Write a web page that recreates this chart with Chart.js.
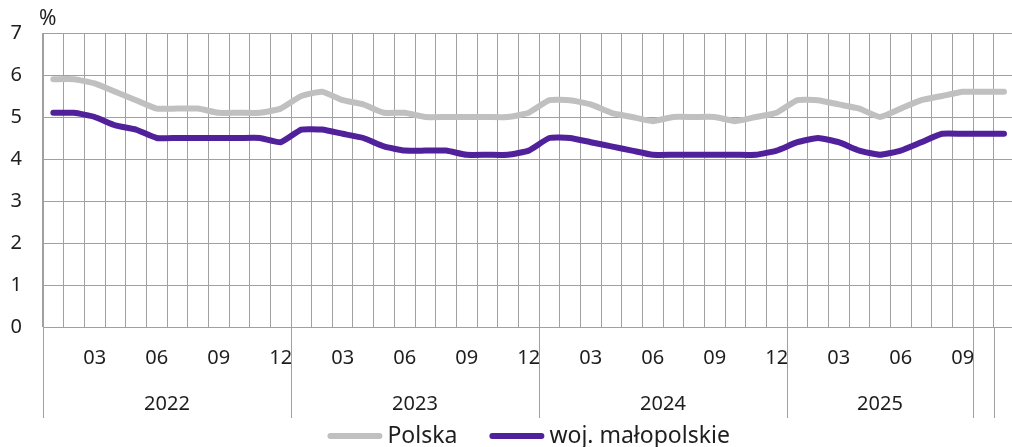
<!DOCTYPE html>
<html>
<head>
<meta charset="utf-8">
<title>Stopa bezrobocia</title>
<script src="https://cdn.jsdelivr.net/npm/chart.js@4.4.1/dist/chart.umd.min.js"></script>
<style>
  html, body { margin: 0; padding: 0; background: #fff; overflow: hidden; }
  #wrap { position: relative; width: 1023px; height: 447px; }
</style>
</head>
<body>
<div id="wrap"><canvas id="lineChart"></canvas></div>
<script>
// dane miesieczne 2022-01 .. 2025-11
var years = ['2022', '2023', '2024', '2025'];
var monthTicks = ['', '', '03', '', '', '06', '', '', '09', '', '', '12'];
var polska = [5.9, 5.9, 5.8, 5.6, 5.4, 5.2, 5.2, 5.2, 5.1, 5.1, 5.1, 5.2,
              5.5, 5.6, 5.4, 5.3, 5.1, 5.1, 5.0, 5.0, 5.0, 5.0, 5.0, 5.1,
              5.4, 5.4, 5.3, 5.1, 5.0, 4.9, 5.0, 5.0, 5.0, 4.9, 5.0, 5.1,
              5.4, 5.4, 5.3, 5.2, 5.0, 5.2, 5.4, 5.5, 5.6, 5.6, 5.6];
var malopolskie = [5.1, 5.1, 5.0, 4.8, 4.7, 4.5, 4.5, 4.5, 4.5, 4.5, 4.5, 4.4,
                   4.7, 4.7, 4.6, 4.5, 4.3, 4.2, 4.2, 4.2, 4.1, 4.1, 4.1, 4.2,
                   4.5, 4.5, 4.4, 4.3, 4.2, 4.1, 4.1, 4.1, 4.1, 4.1, 4.1, 4.2,
                   4.4, 4.5, 4.4, 4.2, 4.1, 4.2, 4.4, 4.6, 4.6, 4.6, 4.6];
// grupy osi (indeksy miesiecy): granice i podpisy lat
var groupEdges = [0, 12, 24, 36, 45, 46];
var yearGroups = [[0, 12], [12, 24], [24, 36], [36, 45]];

var labels = [];
for (var i = 0; i < polska.length; i++) {
    var y = 2022 + Math.floor(i / 12);
    var m = (i % 12) + 1;
    labels.push(y + '-' + (m < 10 ? '0' + m : m));
}

var gridColor = '#a0a0a0';
var textColor = '#1e1e1e';
var fontFam = '"Noto Sans", sans-serif';

var extras = {
    id: 'extras',
    afterDraw: function (chart) {
        var ctx = chart.ctx;
        var xs = chart.scales.x;
        var area = chart.chartArea;
        var half = (xs.getPixelForValue(1) - xs.getPixelForValue(0)) / 2;
        ctx.save();
        // dlugie kreski grup
        ctx.strokeStyle = gridColor;
        ctx.lineWidth = 1;
        groupEdges.forEach(function (g) {
            var px = Math.round(xs.getPixelForValue(g) - half) + 0.5;
            ctx.beginPath();
            ctx.moveTo(px, area.bottom);
            ctx.lineTo(px, 418);
            ctx.stroke();
        });
        // lata
        ctx.fillStyle = textColor;
        ctx.font = '20px ' + fontFam;
        ctx.textAlign = 'center';
        ctx.textBaseline = 'middle';
        yearGroups.forEach(function (g, k) {
            var a = xs.getPixelForValue(g[0]) - half;
            var b = xs.getPixelForValue(g[1]) - half;
            ctx.fillText(years[k], (a + b) / 2, 404);
        });
        // jednostka
        ctx.textAlign = 'left';
        ctx.font = '21px ' + fontFam;
        ctx.fillText('%', 39, 19);
        // legenda
        ctx.font = '23px ' + fontFam;
        var items = chart.data.datasets.map(function (d) {
            return { text: d.label, color: d.borderColor, w: ctx.measureText(d.label).width };
        });
        var box = 55, gap = 5, space = 32;
        var total = 0;
        items.forEach(function (it, k) { total += box + gap + it.w + (k ? space : 0); });
        var x0 = (area.left + area.right) / 2 - total / 2;
        var ly = 436;
        items.forEach(function (it) {
            ctx.strokeStyle = it.color;
            ctx.lineWidth = 6;
            ctx.lineCap = 'round';
            ctx.beginPath();
            ctx.moveTo(x0 + 3, ly);
            ctx.lineTo(x0 + box - 3, ly);
            ctx.stroke();
            ctx.fillText(it.text, x0 + box + gap, ly);
            x0 += box + gap + it.w + space;
        });
        ctx.restore();
    }
};

var ctxL = document.getElementById('lineChart').getContext('2d');
var myLineChart = new Chart(ctxL, {
    type: 'line',
    data: {
        labels: labels,
        datasets: [{
            label: 'Polska',
            data: polska,
            borderColor: '#c0c0c0',
            backgroundColor: '#c0c0c0',
            borderWidth: 6,
            borderCapStyle: 'round',
            pointRadius: 0,
            tension: 0.15
        }, {
            label: 'woj. małopolskie',
            data: malopolskie,
            borderColor: '#50219b',
            backgroundColor: '#50219b',
            borderWidth: 6,
            borderCapStyle: 'round',
            pointRadius: 0,
            tension: 0.15
        }]
    },
    options: {
        responsive: true,
        maintainAspectRatio: false,
        animation: false,
        layout: { padding: { top: 32, left: 0, right: 0, bottom: 0 } },
        plugins: {
            legend: { display: false },
            tooltip: { enabled: false }
        },
        scales: {
            x: {
                offset: true,
                grid: { offset: true, color: gridColor, lineWidth: 1, drawTicks: false },
                border: { color: gridColor },
                ticks: {
                    autoSkip: false,
                    maxRotation: 0,
                    padding: 19,
                    color: textColor,
                    font: { family: fontFam, size: 20 },
                    callback: function (val, idx) { return monthTicks[idx % 12]; }
                },
                afterFit: function (s) { s.height = 120; }
            },
            y: {
                min: 0,
                max: 7,
                ticks: {
                    stepSize: 1,
                    padding: 21,
                    color: textColor,
                    font: { family: fontFam, size: 20 }
                },
                grid: { color: gridColor, lineWidth: 1, drawTicks: false },
                border: { color: gridColor },
                afterFit: function (s) { s.width = 43; }
            }
        }
    },
    plugins: [extras]
});
</script>
</body>
</html>
